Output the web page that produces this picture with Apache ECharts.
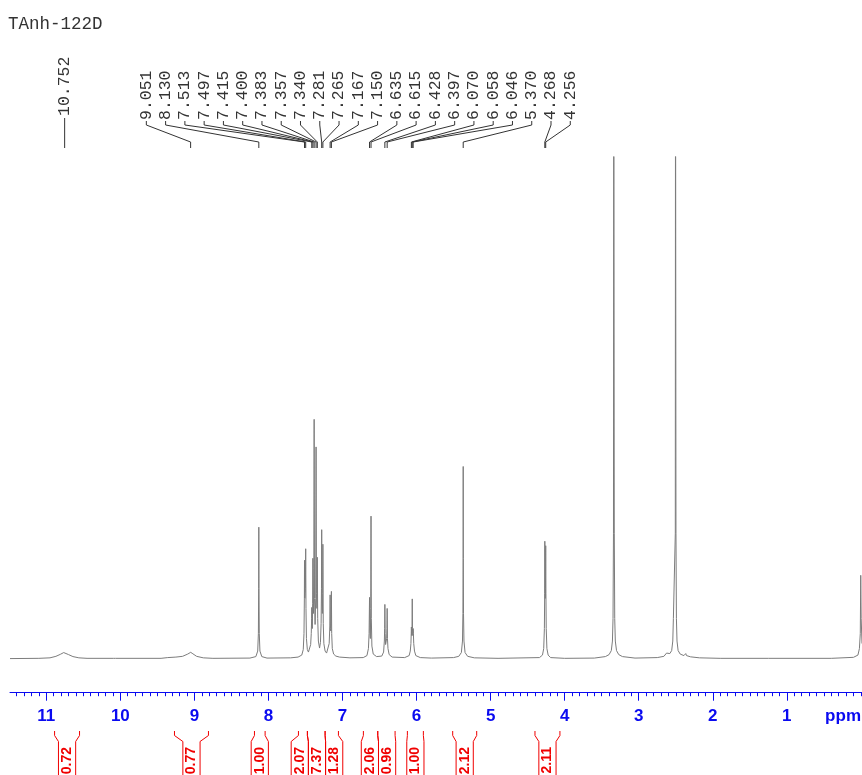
<!DOCTYPE html>
<html>
<head>
<meta charset="utf-8">
<script src="https://cdn.jsdelivr.net/npm/echarts@6.0.0/dist/echarts.min.js"></script>
<style>
  html, body { margin: 0; padding: 0; background: #ffffff; }
  #chart { width: 862px; height: 775px; }
</style>
</head>
<body>
<div id="chart"></div>
<script>
// ---- 1H NMR spectrum of TAnh-122D ----
const sampleName = 'TAnh-122D';

// chemical-shift axis (ppm, drawn right-to-left)
const shiftMin = -0.015;
const shiftMax = 11.49;
const majorTicks = [1, 2, 3, 4, 5, 6, 7, 8, 9, 10, 11];
const axisUnit = 'ppm';

// spectrum trace: [shift (ppm), intensity]
const traceDownfield = [
  [11.49, 0], [11.1, 0.05], [10.95, 0.15], [10.87, 0.45], [10.81, 0.85], [10.765, 1.2],
  [10.74, 1.15], [10.70, 0.8], [10.64, 0.4], [10.56, 0.15], [10.45, 0.05],
  [10.095, 0.05], [10.08, 0.35], [10.065, 0.05],
  [9.45, 0.05], [9.36, 0.2], [9.25, 0.3], [9.16, 0.45], [9.09, 0.9], [9.05, 1.25],
  [9.02, 0.95], [8.97, 0.45], [8.88, 0.15], [8.75, 0.05],
  [8.25, 0.1], [8.17, 0.4], [8.145, 1.5], [8.136, 5], [8.132, 14], [8.130, 26.2],
  [8.128, 14], [8.124, 5], [8.115, 1.5], [8.09, 0.4], [8.02, 0.1]
];
const traceAromatic = [
  [7.70, 0.15], [7.60, 0.3], [7.55, 0.7], [7.53, 1.8], [7.520, 5], [7.515, 12],
  [7.513, 19.6], [7.509, 12], [7.505, 13], [7.501, 14], [7.497, 21.9], [7.493, 10],
  [7.487, 4], [7.475, 1.8], [7.46, 1.3], [7.445, 1.6], [7.43, 2.8], [7.422, 5],
  [7.417, 8], [7.415, 10.2], [7.411, 6.5], [7.407, 6], [7.403, 11], [7.400, 20],
  [7.396, 10], [7.392, 9], [7.387, 18], [7.383, 47.7], [7.378, 12], [7.370, 6.8],
  [7.362, 12], [7.357, 42.2], [7.352, 13], [7.346, 10], [7.343, 14], [7.340, 20.2],
  [7.335, 8], [7.326, 3.5], [7.31, 2.1], [7.298, 3.2], [7.289, 7], [7.284, 14],
  [7.281, 25.7], [7.277, 11], [7.272, 9], [7.268, 13], [7.265, 22.8], [7.260, 7],
  [7.252, 3], [7.235, 1.5], [7.215, 1.1], [7.195, 1.4], [7.18, 3], [7.171, 6.5],
  [7.167, 12.7], [7.163, 6], [7.158, 5.5], [7.154, 7], [7.150, 13.4], [7.146, 5],
  [7.138, 2], [7.12, 0.9], [7.09, 0.5], [7.04, 0.3], [6.90, 0.15],
  [6.72, 0.2], [6.67, 0.6], [6.650, 2], [6.641, 5], [6.635, 12.2], [6.630, 5.5],
  [6.624, 4], [6.619, 10], [6.615, 28.4], [6.611, 8], [6.603, 2.5], [6.585, 0.9],
  [6.54, 0.4], [6.47, 0.5], [6.445, 1.3], [6.435, 3.5], [6.431, 6], [6.428, 10.8],
  [6.424, 5], [6.418, 2.8], [6.411, 2.6], [6.404, 4], [6.400, 6], [6.397, 10.0],
  [6.393, 4], [6.386, 2], [6.37, 0.8], [6.33, 0.3],
  [6.16, 0.2], [6.10, 0.6], [6.085, 1.5], [6.076, 3], [6.072, 5], [6.070, 6.3],
  [6.066, 4.6], [6.061, 6], [6.058, 11.9], [6.055, 6], [6.050, 4.6], [6.046, 6.0],
  [6.043, 5], [6.038, 3], [6.028, 1.5], [6.01, 0.6], [5.95, 0.2]
];
const traceUpfield = [
  [5.80, 0.1], [5.50, 0.2], [5.43, 0.45], [5.395, 1.2], [5.38, 3.5], [5.374, 9],
  [5.371, 20], [5.370, 38.3], [5.369, 20], [5.366, 9], [5.360, 3.5], [5.345, 1.2],
  [5.31, 0.45], [5.22, 0.15], [4.9, 0.05],
  [4.34, 0.2], [4.30, 0.7], [4.283, 2], [4.274, 6], [4.270, 13], [4.268, 23.4],
  [4.265, 14], [4.262, 12], [4.259, 14], [4.256, 22.5], [4.253, 13], [4.249, 6],
  [4.240, 2], [4.223, 0.7], [4.19, 0.2], [4.0, 0.05],
  [3.60, 0.1], [3.45, 0.4], [3.40, 0.8], [3.37, 1.6], [3.355, 3.5], [3.347, 8],
  [3.341, 25], [3.337, 130], [3.334, 130], [3.330, 25], [3.324, 8], [3.316, 3.5],
  [3.30, 1.6], [3.27, 0.8], [3.22, 0.4], [3.05, 0.1],
  [2.75, 0.2], [2.66, 0.45], [2.635, 0.7], [2.624, 1.1], [2.614, 0.8], [2.58, 1.0],
  [2.555, 1.6], [2.54, 3.5], [2.532, 8], [2.506, 25], [2.503, 130], [2.500, 130],
  [2.497, 25], [2.491, 8], [2.483, 3.5], [2.468, 1.6], [2.44, 0.9], [2.39, 0.6],
  [2.365, 1.0], [2.355, 0.6], [2.30, 0.35], [2.18, 0.15], [1.9, 0.05],
  [1.245, 0.05], [1.232, 0.35], [1.22, 0.05],
  [0.40, 0.05], [0.10, 0.25], [0.04, 0.7], [0.02, 2], [0.008, 5], [0.002, 16.6],
  [-0.004, 8], [-0.015, 3]
];

// peak picking labels (ppm)
const peaksIsolated = ['10.752'];
const peaksMain = [
  '9.051', '8.130', '7.513', '7.497', '7.415', '7.400', '7.383', '7.357',
  '7.340', '7.281', '7.265', '7.167', '7.150', '6.635', '6.615', '6.428',
  '6.397', '6.070', '6.058', '6.046', '5.370', '4.268', '4.256'
];

// integration regions (ppm) and integral values
const integralFrom  = [10.888, 9.269, 8.189, 7.595, 7.474, 7.235, 6.718, 6.524, 6.124, 5.512, 4.401];
const integralTo    = [10.551, 8.810, 8.045, 7.474, 7.235, 7.055, 6.524, 6.290, 5.908, 5.188, 4.064];
const integralValue = [0.72, 0.77, 1.00, 2.07, 7.37, 1.28, 2.06, 0.96, 1.00, 2.12, 2.11];

// ---- styling / layout ----
const AXIS_BLUE = '#0a0af0';
const INT_RED = '#f00000';
const TEXT_DARK = '#333333';
const LABEL_STEP = 19.27;          // spacing of the peak labels (px)
const INT_HALF = 8.6;              // half width of an integral label box (px)
const peakLabelRows = [
  { labels: peaksIsolated, textBase: 116, lineTop: 118, bendTop: 118, bendBottom: 148, lineBottom: 148 },
  { labels: peaksMain,     textBase: 120, lineTop: 121, bendTop: 125, bendBottom: 142, lineBottom: 148 }
];

const minorTicks = [];
for (let k = 0; k <= 114; k++) minorTicks.push(+(k / 10).toFixed(1));

const trace = traceDownfield.concat(traceAromatic, traceUpfield);

const chart = echarts.init(document.getElementById('chart'), null, { renderer: 'canvas' });

function renderPeakLabels(params, api) {
  const row = peakLabelRows[params.dataIndex];
  const xs = row.labels.map(s => api.coord([parseFloat(s), 0])[0]);
  const mean = xs.reduce((a, b) => a + b, 0) / xs.length;
  const n = xs.length;
  const children = [];
  row.labels.forEach((s, k) => {
    const lx = mean + (k - (n - 1) / 2) * LABEL_STEP;
    const px = xs[k];
    children.push({
      type: 'polyline',
      shape: { points: [[lx, row.lineTop], [lx, row.bendTop], [px, row.bendBottom], [px, row.lineBottom]] },
      style: { stroke: TEXT_DARK, lineWidth: 1, fill: null }
    });
    children.push({
      type: 'text', x: lx, y: row.textBase, rotation: Math.PI / 2,
      style: {
        text: s, fill: TEXT_DARK, font: '16.5px "Liberation Mono", monospace',
        align: 'left', verticalAlign: 'middle', textAlign: 'left', textVerticalAlign: 'middle'
      }
    });
  });
  return { type: 'group', children: children };
}

function integralBoxes(api) {
  const boxes = integralFrom.map((f, i) => {
    const a = api.coord([f, 0])[0];
    const b = api.coord([integralTo[i], 0])[0];
    const l = Math.min(a, b), r = Math.max(a, b);
    return { l: l, r: r, c: (l + r) / 2 };
  });
  // push overlapping label boxes apart
  for (let it = 0; it < 60; it++) {
    for (let i = 0; i < boxes.length - 1; i++) {
      const o = (boxes[i].c + INT_HALF) - (boxes[i + 1].c - INT_HALF);
      if (o > 0.01) { boxes[i].c -= o / 2; boxes[i + 1].c += o / 2; }
    }
  }
  return boxes;
}

function renderIntegrals(params, api) {
  const boxes = integralBoxes(api);
  const bx = boxes[params.dataIndex];
  const top = 731, knee1 = 735.5, knee2 = 741.5, bottom = 790;
  const bl = bx.c - INT_HALF, br = bx.c + INT_HALF;
  return {
    type: 'group',
    children: [
      { type: 'polyline', shape: { points: [[bx.l, top], [bx.l, knee1], [bl, knee2], [bl, bottom]] },
        style: { stroke: INT_RED, lineWidth: 1, fill: null } },
      { type: 'polyline', shape: { points: [[bx.r, top], [bx.r, knee1], [br, knee2], [br, bottom]] },
        style: { stroke: INT_RED, lineWidth: 1, fill: null } },
      { type: 'text', x: bx.c, y: 747, rotation: Math.PI / 2,
        style: {
          text: integralValue[params.dataIndex].toFixed(2), fill: INT_RED,
          font: 'bold 14px "Liberation Sans", Arial, sans-serif',
          align: 'right', verticalAlign: 'middle', textAlign: 'right', textVerticalAlign: 'middle'
        } }
    ]
  };
}

const option = {
  animation: false,
  backgroundColor: '#ffffff',
  title: {
    text: sampleName, left: 3, top: 10,
    textStyle: { fontFamily: '"Liberation Mono", monospace', fontWeight: 'normal', fontSize: 17.5, color: TEXT_DARK }
  },
  grid: { left: 10, right: 0, top: 157, bottom: 82.3, containLabel: false },
  xAxis: [
    {
      type: 'value', inverse: true, min: shiftMin, max: shiftMax,
      axisLine: { show: true, onZero: false, lineStyle: { color: AXIS_BLUE, width: 1 } },
      axisTick: { show: true, customValues: majorTicks, length: 8, lineStyle: { color: AXIS_BLUE } },
      axisLabel: {
        show: true, customValues: majorTicks, margin: 15,
        color: AXIS_BLUE, fontSize: 17, fontWeight: 'bold', fontFamily: '"Liberation Sans", Arial, sans-serif'
      },
      splitLine: { show: false }
    },
    {
      type: 'value', inverse: true, min: shiftMin, max: shiftMax, position: 'bottom',
      axisLine: { show: false, onZero: false },
      axisTick: { show: true, customValues: minorTicks, length: 3.5, lineStyle: { color: AXIS_BLUE } },
      axisLabel: { show: false },
      splitLine: { show: false }
    }
  ],
  yAxis: { type: 'value', min: -6.8, max: 100, show: false },
  graphic: [{
    type: 'text', right: 1, top: 708,
    style: { text: axisUnit, fill: AXIS_BLUE, font: 'bold 17px "Liberation Sans", Arial, sans-serif' }
  }],
  series: [
    {
      type: 'line', data: trace, xAxisIndex: 0, showSymbol: false, clip: true,
      lineStyle: { color: '#7c7c7c', width: 1 }, silent: true
    },
    {
      type: 'custom', xAxisIndex: 0, clip: false, silent: true,
      data: peakLabelRows.map(r => [parseFloat(r.labels[0]), 0]),
      renderItem: renderPeakLabels
    },
    {
      type: 'custom', xAxisIndex: 0, clip: false, silent: true,
      data: integralFrom.map((f, i) => [f, 0]),
      renderItem: renderIntegrals
    }
  ]
};

chart.setOption(option);
</script>
</body>
</html>
